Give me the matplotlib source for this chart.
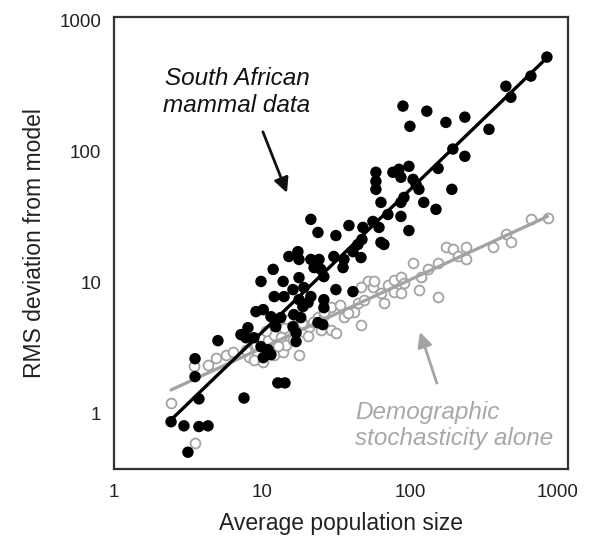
import matplotlib
matplotlib.use("Agg")
import matplotlib.pyplot as plt
from matplotlib.ticker import FixedLocator, NullLocator

plt.rcParams['font.family'] = ['Liberation Sans', 'DejaVu Sans']

# South African mammal data (filled black)
mammal_x = [2.43, 2.97, 3.75, 4.32, 3.16, 3.53, 3.53, 3.75, 7.56, 5.04,
            7.21, 8.04, 7.80, 8.83, 9.85, 11.0, 11.5, 10.2, 12.8, 14.3,
            9.11, 10.2, 11.5, 12.4, 12.4, 13.4, 16.4, 18.3, 16.2, 17.0,
            17.0, 23.9, 25.8, 9.85, 11.9, 13.9, 17.8, 16.2, 19.2, 21.4,
            12.1, 14.1, 17.8, 18.9, 20.5, 26.2, 26.2, 31.6, 41.2, 15.2,
            17.5, 17.8, 21.4, 24.3, 22.5, 25.0, 26.2, 30.6, 35.8, 35.3,
            41.2, 44.5, 46.7, 21.4, 23.9, 31.6, 38.7, 48.1, 47.4, 61.8,
            63.7, 66.7, 56.2, 71.0, 86.9, 98.4, 63.7, 91.1, 86.9, 124,
            150, 58.9, 58.9, 58.9, 76.7, 84.3, 98.4, 86.9, 105, 110,
            115, 192, 155, 195, 235, 89.7, 130, 100, 175, 235,
            342, 445, 481, 657, 843]
mammal_y = [0.87, 0.81, 0.80, 0.81, 0.51, 2.63, 1.92, 1.30, 1.32, 3.61,
            4.01, 4.53, 3.80, 3.80, 3.25, 3.08, 2.82, 2.68, 1.72, 1.72,
            6.01, 6.22, 5.50, 5.22, 4.61, 5.41, 5.70, 5.41, 4.61, 4.15,
            3.55, 4.95, 4.78, 10.2, 12.6, 10.2, 10.9, 8.84, 9.16, 7.82,
            7.82, 7.82, 7.41, 6.56, 7.04, 7.41, 6.44, 8.84, 8.53, 15.8,
            17.2, 15.0, 15.0, 15.0, 13.0, 12.6, 11.1, 15.8, 15.0, 13.0,
            17.2, 19.5, 15.5, 30.3, 24.1, 22.8, 27.2, 26.3, 21.3, 26.3,
            20.2, 19.5, 29.2, 33.0, 31.9, 24.9, 40.8, 44.5, 40.8, 40.8,
            36.1, 69.2, 59.0, 51.3, 69.2, 72.9, 76.8, 63.4, 61.1, 56.0,
            51.3, 51.3, 74.1, 104, 91.6, 221, 202, 155, 166, 182,
            147, 313, 258, 374, 522]

# Demographic stochasticity alone (open grey)
demo_x = [2.43, 3.53, 3.50, 4.32, 4.89, 5.71, 6.37, 8.17, 8.83, 10.2,
          9.85, 11.0, 12.1, 13.4, 12.1, 13.9, 17.8, 15.0, 15.7, 17.5,
          19.2, 20.8, 23.9, 26.2, 25.0, 29.3, 31.6, 29.3, 35.8, 41.9,
          44.5, 48.9, 46.7, 52.0, 46.7, 56.2, 57.1, 63.7, 66.7, 71.0,
          77.9, 77.9, 86.9, 91.1, 86.9, 105, 115, 119, 132, 155,
          155, 175, 195, 211, 239, 239, 364, 445, 481, 657,
          856, 7.80, 9.11, 14.5, 16.2, 26.2, 10.6, 14.0, 18.6, 22.0,
          12.8, 20.6, 33.5, 38.0]
demo_y = [1.21, 0.60, 2.32, 2.37, 2.68, 2.82, 2.97, 2.72, 2.58, 2.49,
          3.80, 3.67, 4.01, 3.87, 2.82, 2.97, 2.82, 5.22, 4.61, 5.50,
          4.23, 4.61, 5.50, 5.70, 4.38, 4.38, 4.15, 6.56, 5.50, 6.01,
          7.04, 7.41, 4.78, 10.2, 9.32, 9.32, 10.2, 8.39, 7.04, 9.66,
          10.5, 8.53, 11.1, 10.0, 8.39, 14.2, 8.84, 11.1, 12.6, 14.2,
          7.82, 18.5, 17.9, 15.8, 18.8, 15.0, 18.8, 23.3, 20.2, 30.3,
          31.3, 3.08, 3.36, 3.36, 3.67, 6.01, 4.30, 4.50, 4.90, 5.00,
          3.30, 3.90, 6.80, 5.90]

# Fitted lines (end points)
fit_x = [2.43, 850]
mammal_fit_y = [0.90, 520]
demo_fit_y = [1.52, 31.9]

tick_vals = [1, 10, 100, 1000]
tick_labels = ['1', '10', '100', '1000']

BLACK = '#000000'
GREY = '#a3a3a3'

fig = plt.figure(figsize=(5.9, 5.42), dpi=100)
ax = fig.add_axes([0.1932, 0.1347, 0.7695, 0.8339])
ax.set_xscale('log')
ax.set_yscale('log')
ax.set_xlim(1, 1170)
ax.set_ylim(0.38, 1054)

ax.scatter(demo_x, demo_y, s=50, facecolors='white', edgecolors=GREY,
           linewidths=1.3, zorder=2)
ax.plot(fit_x, demo_fit_y, color=GREY, lw=2.4, zorder=3,
        solid_capstyle='round')
ax.scatter(mammal_x, mammal_y, s=68, color=BLACK, edgecolors='none',
           zorder=4)
ax.plot(fit_x, mammal_fit_y, color=BLACK, lw=2.4, zorder=5,
        solid_capstyle='round')

ax.xaxis.set_major_locator(FixedLocator(tick_vals))
ax.yaxis.set_major_locator(FixedLocator(tick_vals))
ax.xaxis.set_minor_locator(NullLocator())
ax.yaxis.set_minor_locator(NullLocator())
ax.set_xticklabels(tick_labels)
ax.set_yticklabels(tick_labels)
ax.tick_params(axis='both', length=0, labelsize=13.5, colors='#222222')
ax.tick_params(axis='x', pad=11)
ax.tick_params(axis='y', pad=9)

for sp in ax.spines.values():
    sp.set_linewidth(1.6)
    sp.set_color('#333333')

ax.set_xlabel('Average population size', fontsize=16.5, color='#222222',
              labelpad=8)
ax.set_ylabel('RMS deviation from model', fontsize=16.5, color='#222222',
              labelpad=10)

ax.text(0.271, 0.834, 'South African\nmammal data', transform=ax.transAxes,
        ha='center', va='center', fontsize=17.5, style='italic',
        color='#111111', linespacing=1.2)
ax.annotate('', xy=(0.381, 0.611), xytext=(0.328, 0.746),
            xycoords='axes fraction', textcoords='axes fraction',
            arrowprops=dict(arrowstyle='-|>', color='#111111', lw=2,
                            mutation_scale=22, shrinkA=0, shrinkB=0))

ax.text(0.531, 0.097, 'Demographic\nstochasticity alone',
        transform=ax.transAxes, ha='left', va='center', fontsize=17.5,
        style='italic', color='#a8a8a8', linespacing=1.15)
ax.annotate('', xy=(0.674, 0.303), xytext=(0.711, 0.190),
            xycoords='axes fraction', textcoords='axes fraction',
            arrowprops=dict(arrowstyle='-|>', color='#a3a3a3', lw=2,
                            mutation_scale=22, shrinkA=0, shrinkB=0))

fig.savefig('out.png', dpi=100)
